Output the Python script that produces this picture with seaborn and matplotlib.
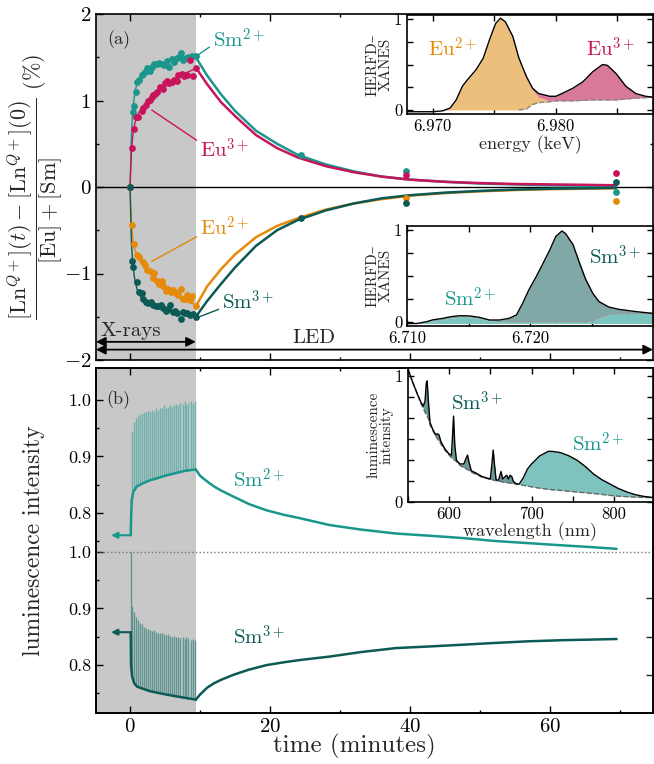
import numpy as np
import matplotlib
matplotlib.use("Agg")
import matplotlib.pyplot as plt
from matplotlib.ticker import MultipleLocator, FixedLocator
import seaborn as sns

# ---------------- panel (a): XANES fractions vs time ----------------
# measured points during X-ray exposure
t_sm2 = [0, 0.38, 0.57, 0.86, 1.05, 1.33, 1.67, 1.9, 2.14, 2.48, 2.86, 3.1, 3.43, 3.8, 4.19,
         4.5, 4.86, 5.24, 5.6, 5.95, 6.3, 6.67, 7.14, 7.24, 7.6, 8.0, 8.3, 8.8, 9.43]
v_sm2 = [0, 0.87, 0.94, 1.10, 1.21, 1.24, 1.30, 1.31, 1.33, 1.37, 1.34, 1.39, 1.42, 1.42, 1.43,
         1.42, 1.41, 1.46, 1.39, 1.48, 1.45, 1.49, 1.51, 1.55, 1.47, 1.49, 1.50, 1.51, 1.51]
t_eu3 = [0, 0.24, 0.57, 0.86, 1.19, 1.67, 1.9, 2.29, 2.62, 2.86, 3.1, 3.33, 3.57, 3.8, 4.29,
         4.67, 5.0, 5.24, 5.6, 5.95, 6.29, 6.67, 6.9, 7.38, 7.71, 8.19, 8.57, 8.95, 9.43]
v_eu3 = [0, 0.45, 0.67, 0.81, 0.81, 0.88, 0.91, 0.95, 0.99, 1.01, 1.04, 1.06, 1.08, 1.10, 1.16,
         1.13, 1.20, 1.22, 1.20, 1.21, 1.24, 1.22, 1.29, 1.31, 1.28, 1.29, 1.47, 1.28, 1.37]
t_eu2 = [0, 0.24, 0.57, 0.95, 1.33, 1.81, 2.14, 2.48, 2.86, 3.24, 3.43, 3.81, 4.19, 4.52, 4.76,
         5.14, 5.48, 5.81, 6.19, 6.57, 6.9, 7.24, 7.52, 7.86, 8.19, 8.57, 8.81, 9.43]
v_eu2 = [0, -0.44, -0.66, -0.79, -0.81, -0.87, -0.90, -0.96, -0.97, -1.05, -0.99, -1.09, -1.12,
         -1.09, -1.15, -1.20, -1.18, -1.21, -1.19, -1.22, -1.25, -1.18, -1.29, -1.29, -1.25,
         -1.31, -1.26, -1.37]
t_sm3 = [0, 0.24, 0.48, 0.95, 1.33, 1.67, 1.9, 2.29, 2.62, 2.95, 3.33, 3.71, 4.05, 4.38, 4.76,
         5.14, 5.48, 5.71, 6.1, 6.43, 6.76, 7.24, 7.52, 7.86, 8.19, 8.57, 8.95, 9.43]
v_sm3 = [0, -0.86, -0.92, -1.10, -1.21, -1.23, -1.29, -1.33, -1.34, -1.33, -1.36, -1.37, -1.38,
         -1.36, -1.40, -1.43, -1.41, -1.36, -1.45, -1.43, -1.46, -1.53, -1.44, -1.46, -1.46,
         -1.48, -1.47, -1.50]

# points measured after the X-rays (LED only)
t_post_sm2, v_post_sm2 = [24.4, 39.4, 69.4], [0.37, 0.185, -0.054]
t_post_eu3, v_post_eu3 = [39.4, 69.4], [0.14, 0.16]
t_post_eu2, v_post_eu2 = [39.4, 69.4], [-0.13, -0.16]
t_post_sm3, v_post_sm3 = [24.4, 39.4, 69.4], [-0.36, -0.19, 0.054]

# fitted curves: growth under X-rays, then relaxation
t_rise = [0, 0.2, 0.4, 0.7, 1.0, 1.5, 2, 3, 4, 5, 6, 7, 8, 9.4]
fit_rise_sm2 = [0, 0.60, 0.90, 1.10, 1.20, 1.28, 1.33, 1.38, 1.42, 1.44, 1.46, 1.48, 1.49, 1.50]
fit_rise_eu3 = [0, 0.40, 0.60, 0.74, 0.82, 0.89, 0.94, 1.03, 1.11, 1.18, 1.23, 1.28, 1.32, 1.37]
fit_rise_eu2 = [0, -0.40, -0.60, -0.73, -0.80, -0.87, -0.92, -1.01, -1.09, -1.15, -1.20, -1.25,
                -1.29, -1.37]
fit_rise_sm3 = [0, -0.65, -0.90, -1.08, -1.18, -1.27, -1.32, -1.37, -1.40, -1.42, -1.44, -1.46,
                -1.48, -1.50]
t_decay = [9.4, 11, 13, 15, 18, 21, 24, 28, 32, 36, 40, 45, 50, 55, 60, 65, 69.4]
fit_dec_sm2 = [1.50, 1.29, 1.07, 0.88, 0.65, 0.50, 0.37, 0.26, 0.18, 0.12, 0.085, 0.06, 0.04,
               0.03, 0.02, 0.015, 0.01]
fit_dec_eu3 = [1.38, 1.19, 0.98, 0.82, 0.60, 0.45, 0.34, 0.24, 0.17, 0.12, 0.085, 0.06, 0.045,
               0.035, 0.03, 0.025, 0.02]
fit_dec_eu2 = [-1.38, -1.15, -0.95, -0.78, -0.58, -0.45, -0.36, -0.26, -0.19, -0.14, -0.10,
               -0.07, -0.05, -0.035, -0.025, -0.02, -0.015]
fit_dec_sm3 = [-1.50, -1.32, -1.12, -0.93, -0.68, -0.50, -0.38, -0.27, -0.19, -0.13, -0.095,
               -0.065, -0.045, -0.03, -0.02, -0.015, -0.01]

# ---------------- panel (b): luminescence traces ----------------
t_lum_xray_sm2 = [0.1, 0.15, 0.24, 0.48, 0.95, 1.9, 2.86, 4, 5, 6, 7, 8, 9.4]
v_lum_xray_sm2 = [0.761, 0.79, 0.823, 0.838, 0.847, 0.853, 0.858, 0.862, 0.866, 0.869, 0.872,
                  0.875, 0.877]
t_lum_xray_sm3 = [0.1, 0.15, 0.3, 0.6, 1.0, 1.43, 2.86, 4, 5.2, 7, 8.5, 9.4]
v_lum_xray_sm3 = [0.858, 0.80, 0.78, 0.768, 0.762, 0.760, 0.754, 0.751, 0.748, 0.744, 0.741,
                  0.739]
t_lum_led = [9.4, 10, 11, 12, 13, 14.8, 17, 19.5, 22, 24.3, 28.5, 33, 38, 43, 47.6, 52, 57,
             62, 66, 69.5]
v_lum_led_sm2 = [0.877, 0.866, 0.856, 0.847, 0.840, 0.829, 0.816, 0.805, 0.797, 0.791, 0.779,
                 0.771, 0.764, 0.760, 0.756, 0.751, 0.747, 0.743, 0.740, 0.737]
v_lum_led_sm3 = [0.739, 0.748, 0.760, 0.768, 0.774, 0.783, 0.792, 0.800, 0.805, 0.809, 0.815,
                 0.823, 0.830, 0.833, 0.836, 0.839, 0.842, 0.844, 0.845, 0.846]
sm2_pre, sm3_pre = 0.761, 0.858

# periodic spikes while X-rays are on
t_spike = [0.25, 0.55, 0.85, 1.1, 1.4, 1.7, 2.0, 2.3, 2.6, 2.85, 3.15, 3.45, 3.75, 4.0, 4.3,
           4.6, 4.9, 5.2, 5.45, 5.75, 6.05, 6.35, 6.6, 6.9, 7.2, 7.5, 7.8, 8.05, 8.35, 8.65,
           8.95, 9.25]
spike_base_sm2 = [0.823, 0.840, 0.845, 0.848, 0.850, 0.852, 0.853, 0.855, 0.857, 0.858, 0.859,
                  0.860, 0.861, 0.862, 0.863, 0.864, 0.865, 0.866, 0.867, 0.868, 0.869, 0.870,
                  0.871, 0.872, 0.873, 0.874, 0.874, 0.875, 0.875, 0.876, 0.876, 0.877]
spike_peak_sm2 = [0.945, 0.96, 0.968, 0.972, 0.975, 0.975, 0.978, 0.978, 0.98, 0.978, 0.982,
                  0.98, 0.985, 0.982, 0.985, 0.985, 0.99, 0.985, 0.988, 0.99, 0.988, 0.99,
                  0.993, 0.99, 0.995, 0.992, 0.998, 0.99, 0.995, 0.998, 0.993, 0.997]
spike_base_sm3 = [0.785, 0.770, 0.763, 0.762, 0.760, 0.759, 0.758, 0.757, 0.755, 0.754, 0.753,
                  0.753, 0.752, 0.751, 0.750, 0.750, 0.749, 0.748, 0.748, 0.747, 0.746, 0.746,
                  0.745, 0.744, 0.744, 0.743, 0.742, 0.742, 0.741, 0.740, 0.740, 0.739]
spike_peak_sm3 = [0.905, 0.893, 0.885, 0.88, 0.875, 0.872, 0.868, 0.866, 0.864, 0.862, 0.86,
                  0.862, 0.858, 0.857, 0.856, 0.857, 0.854, 0.853, 0.855, 0.852, 0.85, 0.852,
                  0.849, 0.85, 0.848, 0.849, 0.846, 0.85, 0.847, 0.845, 0.846, 0.845]

# ---------------- insets ----------------
eu_energy = [6.9679, 6.9700, 6.9708, 6.9714, 6.9719, 6.9724, 6.9728, 6.9735, 6.9741, 6.9746,
             6.9751, 6.9755, 6.9759, 6.9765, 6.9770, 6.9776, 6.9781, 6.9786, 6.9795, 6.9800,
             6.9805, 6.9814, 6.9822, 6.9830, 6.9838, 6.9842, 6.9849, 6.9857, 6.9865, 6.9873,
             6.9879]
eu_total = [-0.02, -0.02, -0.01, 0.02, 0.11, 0.26, 0.33, 0.44, 0.57, 0.77, 0.95, 1.01, 0.97,
            0.81, 0.57, 0.37, 0.24, 0.18, 0.15, 0.15, 0.18, 0.24, 0.31, 0.42, 0.50, 0.49, 0.40,
            0.26, 0.18, 0.15, 0.14]
eu_eu2 = [-0.02, -0.02, -0.01, 0.02, 0.11, 0.26, 0.33, 0.44, 0.57, 0.77, 0.95, 1.01, 0.97,
          0.81, 0.57, 0.37, 0.22, 0.14, 0.10, 0.10, 0.10, 0.10, 0.105, 0.11, 0.11, 0.11, 0.11,
          0.12, 0.13, 0.135, 0.14]
eu_base = [-0.02, -0.02, -0.01, 0, 0, 0, 0, 0, 0, 0, 0, 0, 0, 0, 0, 0.01, 0.06, 0.08, 0.09,
           0.10, 0.10, 0.10, 0.105, 0.11, 0.11, 0.11, 0.11, 0.12, 0.13, 0.135, 0.14]

sm_energy = [6.7100, 6.7108, 6.7116, 6.7121, 6.7129, 6.7136, 6.7143, 6.7151, 6.7159, 6.7167,
             6.7175, 6.7183, 6.7189, 6.7194, 6.7199, 6.7205, 6.7210, 6.7216, 6.7221, 6.7226,
             6.7229, 6.7235, 6.7240, 6.7245, 6.7251, 6.7256, 6.7264, 6.7272, 6.7286, 6.7300]
sm_total = [-0.02, -0.02, 0.0, 0.02, 0.036, 0.055, 0.065, 0.062, 0.047, 0.018, 0.018, 0.036,
            0.073, 0.20, 0.345, 0.49, 0.62, 0.78, 0.93, 0.99, 0.96, 0.84, 0.65, 0.47, 0.31,
            0.22, 0.16, 0.135, 0.11, 0.09]
sm_sm2 = [-0.02, -0.02, 0.0, 0.01, 0.02, 0.04, 0.05, 0.05, 0.035, 0.01, 0.0, 0.0, 0.0, 0.0,
          0.0, 0.0, 0.0, 0.0, 0.0, 0.0, 0.0, 0.0, 0.0, 0.0, 0.01, 0.04, 0.08, 0.09, 0.09, 0.09]

wl = [550, 556, 562, 566, 569, 571, 572.5, 573.5, 575, 577, 580, 584, 586, 588, 590, 595, 600,
      603, 604.5, 605.5, 607, 609, 613, 618, 621, 622.5, 624, 627, 632, 640, 645, 650, 652,
      653.5, 655, 657, 660, 663, 665, 668, 670, 672, 674, 676, 678, 682, 685, 690, 695, 700,
      710, 716, 720, 725, 735, 745, 755, 765, 775, 785, 795, 805, 815, 825, 835, 847]
lum_total = [1.06, 0.95, 0.85, 0.79, 0.76, 0.80, 0.94, 0.96, 0.80, 0.63, 0.58, 0.53, 0.54,
             0.53, 0.48, 0.42, 0.38, 0.37, 0.55, 0.68, 0.45, 0.33, 0.30, 0.30, 0.35, 0.37, 0.32,
             0.245, 0.23, 0.20, 0.19, 0.18, 0.30, 0.41, 0.30, 0.175, 0.17, 0.24, 0.18, 0.20,
             0.21, 0.18, 0.21, 0.20, 0.16, 0.14, 0.14, 0.19, 0.26, 0.30, 0.365, 0.385, 0.40,
             0.40, 0.39, 0.365, 0.33, 0.28, 0.22, 0.175, 0.14, 0.105, 0.078, 0.057, 0.043,
             0.033]
lum_bg = [1.06, 0.95, 0.85, 0.78, 0.74, 0.71, 0.69, 0.68, 0.66, 0.61, 0.57, 0.52, 0.50, 0.48,
          0.46, 0.41, 0.37, 0.35, 0.34, 0.335, 0.33, 0.32, 0.29, 0.27, 0.26, 0.255, 0.25, 0.235,
          0.22, 0.195, 0.186, 0.178, 0.175, 0.172, 0.170, 0.167, 0.163, 0.160, 0.157, 0.154,
          0.152, 0.150, 0.148, 0.146, 0.144, 0.140, 0.137, 0.130, 0.124, 0.118, 0.107, 0.102,
          0.098, 0.095, 0.090, 0.083, 0.077, 0.071, 0.065, 0.058, 0.050, 0.044, 0.040, 0.037,
          0.034, 0.032]

# ---------------- style ----------------
SM2 = "#1a968c"
SM3 = "#0b5a55"
EU3 = "#c8145a"
EU2 = "#e68a0a"
SM2_SPIKE = "#6cb2ad"
SM3_SPIKE = "#5f9590"
GREY = "#c8c8c8"
OFF = 0.268          # vertical offset of the Sm2+ trace in panel (b)
T_XRAY = 9.4

sns.set_theme(style="ticks")
plt.rcParams["font.family"] = ["cmr10", "DejaVu Serif"]
plt.rcParams["mathtext.fontset"] = "cm"
plt.rcParams["axes.formatter.use_mathtext"] = True
plt.rcParams["axes.linewidth"] = 1.2
plt.rcParams["axes.edgecolor"] = "black"


def frame(ax, major=5, minor=2.5):
    ax.tick_params(which="both", direction="in", top=True, right=True, colors="black",
                   width=1)
    ax.tick_params(which="major", length=major)
    ax.tick_params(which="minor", length=minor)


def ion(s, q):
    return r"$\mathrm{%s}^{%d+}$" % (s, q)


fig = plt.figure(figsize=(6.54, 7.64), dpi=100)
ax_a = fig.add_axes([96 / 654, 1 - 360 / 764, 557 / 654, 346 / 764])
ax_b = fig.add_axes([96 / 654, 1 - 713 / 764, 557 / 654, 345 / 764])

# ----- panel (a) -----
ax = ax_a
ax.axvspan(-5, T_XRAY, color=GREY, lw=0, zorder=0)
ax.axhline(0, color="black", lw=1.0, zorder=1)
for tr, vr, vd, col in [(t_rise, fit_rise_sm2, fit_dec_sm2, SM2),
                        (t_rise, fit_rise_eu3, fit_dec_eu3, EU3),
                        (t_rise, fit_rise_eu2, fit_dec_eu2, EU2),
                        (t_rise, fit_rise_sm3, fit_dec_sm3, SM3)]:
    sns.lineplot(x=tr, y=vr, ax=ax, color=col, lw=1.0, zorder=3)
    sns.lineplot(x=t_decay, y=vd, ax=ax, color=col, lw=1.8, zorder=3)
for tt, vv, col in [(t_sm2, v_sm2, SM2), (t_eu3, v_eu3, EU3), (t_eu2, v_eu2, EU2),
                    (t_sm3, v_sm3, SM3), (t_post_sm2, v_post_sm2, SM2),
                    (t_post_eu3, v_post_eu3, EU3), (t_post_eu2, v_post_eu2, EU2),
                    (t_post_sm3, v_post_sm3, SM3)]:
    sns.scatterplot(x=tt, y=vv, ax=ax, color=col, s=24, linewidth=0, zorder=4)

lead = dict(arrowstyle="-", lw=1.0, shrinkA=0, shrinkB=0)
ax.annotate(ion("Sm", 2), xy=(9.6, 1.52), xytext=(11.8, 1.70), color=SM2, fontsize=15,
            va="center", arrowprops=dict(lead, color=SM2, relpos=(0, 0.3)))
ax.annotate(ion("Eu", 3), xy=(3.1, 0.89), xytext=(10.0, 0.43), color=EU3, fontsize=15,
            va="center", arrowprops=dict(lead, color=EU3, relpos=(0, 0.8)))
ax.annotate(ion("Eu", 2), xy=(3.1, -0.86), xytext=(10.0, -0.47), color=EU2, fontsize=15,
            va="center", arrowprops=dict(lead, color=EU2, relpos=(0, 0.2)))
ax.annotate(ion("Sm", 3), xy=(9.6, -1.51), xytext=(13.1, -1.33), color=SM3, fontsize=15,
            va="center", arrowprops=dict(lead, color=SM3, relpos=(0, 0.25)))

arrow = dict(arrowstyle="<|-|>", color="black", lw=1.3, mutation_scale=14,
             shrinkA=0, shrinkB=0)
ax.annotate("", xy=(-4.86, -1.79), xytext=(T_XRAY, -1.79), arrowprops=arrow,
            annotation_clip=False)
ax.annotate("", xy=(-4.86, -1.88), xytext=(74.7, -1.88), arrowprops=arrow,
            annotation_clip=False)
ax.text(-4.2, -1.66, "X-rays", fontsize=15, va="center")
ax.text(26.2, -1.745, "LED", fontsize=15, va="center", ha="center")
ax.text(-3.3, 1.70, "(a)", fontsize=13, va="center")

ax.set_xlim(-4.86, 74.7)
ax.set_ylim(-2, 2)
ax.set_xticks([0, 20, 40, 60])
ax.xaxis.set_minor_locator(FixedLocator([10, 30, 50, 70]))
ax.set_xticklabels([])
ax.set_yticks([-2, -1, 0, 1, 2])
ax.set_yticklabels(["$-2$", "$-1$", "$0$", "$1$", "$2$"], fontsize=15)
ax.yaxis.set_minor_locator(MultipleLocator(0.5))
ax.set_xlabel("")
ax.set_ylabel(r"$\dfrac{[\mathrm{Ln}^{Q+}](t)-[\mathrm{Ln}^{Q+}](0)}{[\mathrm{Eu}]+[\mathrm{Sm}]}$ (%)",
              fontsize=16)
ax.yaxis.set_label_coords(-0.056, 0.5)
frame(ax)

# ----- panel (b) -----
ax = ax_b
ax.axvspan(-5, T_XRAY, color=GREY, lw=0, zorder=0)
ax.axhline(1.0, color="#777777", ls=":", lw=1.0, zorder=1)
ax.vlines(t_spike, np.array(spike_base_sm2) + OFF, np.array(spike_peak_sm2) + OFF,
          color=SM2_SPIKE, lw=1.0, zorder=2)
ax.vlines([0.1] + t_spike, [sm3_pre] + spike_base_sm3, [1.0] + spike_peak_sm3,
          color=SM3_SPIKE, lw=1.0, zorder=2)
sns.lineplot(x=t_lum_xray_sm2, y=np.array(v_lum_xray_sm2) + OFF, ax=ax, color=SM2, lw=1.8,
             zorder=3)
sns.lineplot(x=t_lum_led, y=np.array(v_lum_led_sm2) + OFF, ax=ax, color=SM2, lw=1.8, zorder=3)
sns.lineplot(x=t_lum_xray_sm3, y=v_lum_xray_sm3, ax=ax, color=SM3, lw=1.8, zorder=3)
sns.lineplot(x=t_lum_led, y=v_lum_led_sm3, ax=ax, color=SM3, lw=1.8, zorder=3)
ax.annotate("", xy=(-2.7, sm2_pre + OFF), xytext=(0.12, sm2_pre + OFF), zorder=3,
            arrowprops=dict(arrowstyle="-|>", color=SM2, lw=1.5, mutation_scale=9,
                            shrinkA=0, shrinkB=0))
ax.annotate("", xy=(-2.7, sm3_pre), xytext=(0.12, sm3_pre), zorder=3,
            arrowprops=dict(arrowstyle="-|>", color=SM3, lw=1.5, mutation_scale=9,
                            shrinkA=0, shrinkB=0))
ax.text(14.7, 0.859 + OFF, ion("Sm", 2), color=SM2, fontsize=15, va="center")
ax.text(14.7, 0.85, ion("Sm", 3), color=SM3, fontsize=15, va="center")
ax.text(-3.4, 1.0 + OFF, "(b)", fontsize=13, va="center")

ax.set_xlim(-4.86, 74.7)
ax.set_ylim(0.7155, 1.324)
ax.set_xticks([0, 20, 40, 60])
ax.set_xticklabels(["$0$", "$20$", "$40$", "$60$"], fontsize=15)
ax.xaxis.set_minor_locator(FixedLocator([10, 30, 50, 70]))
lum_ticks = [0.8, 0.9, 1.0]
ax.set_yticks(lum_ticks + [v + OFF for v in lum_ticks])
ax.set_yticklabels(["0.8", "0.9", "1.0"] * 2, fontsize=13)
for i, lab in enumerate(ax.get_yticklabels()):
    lab.set_color(SM3 if i < 3 else SM2)
ax.yaxis.set_minor_locator(FixedLocator([0.75, 0.85, 0.95] + [v + OFF for v in [0.75, 0.85, 0.95]]))
ax.set_xlabel("time (minutes)", fontsize=18)
ax.xaxis.set_label_coords(0.463, -0.062)
ax.set_ylabel("luminescence intensity", fontsize=17)
ax.yaxis.set_label_coords(-0.092, 0.5)
frame(ax)
ax.tick_params(which="both", right=False)
ax_r = ax.twinx()
ax_r.set_ylim(ax.get_ylim())
ax_r.set_yticks([0.783, 0.85, 0.918])
ax_r.tick_params(direction="in", length=5, width=1, labelright=False)
ax_r.grid(False)

# ----- inset: Eu L3 HERFD-XANES -----
ins = fig.add_axes([407 / 654, 1 - 114 / 764, 246 / 654, 99 / 764])
eu_e = np.array(eu_energy)
ins.fill_between(eu_energy, eu_base, eu_eu2, color="#ecc07c", lw=0)
ins.fill_between(eu_energy, eu_eu2, eu_total, where=eu_e > 6.9778,
                 color="#d8799c", lw=0, interpolate=True)
ins.plot(eu_e[eu_e >= 6.977], np.array(eu_base)[eu_e >= 6.977], color="#888888", ls="--",
         lw=1.0)
sns.lineplot(x=eu_energy, y=eu_total, ax=ins, color="black", lw=1.0)
ins.text(6.96957, 0.67, ion("Eu", 2), color=EU2, fontsize=15, va="center")
ins.text(6.98246, 0.67, ion("Eu", 3), color=EU3, fontsize=15, va="center")
ins.set_xlim(6.9679, 6.9879)
ins.set_ylim(-0.045, 1.045)
ins.set_xticks([6.970, 6.980])
ins.set_xticklabels(["6.970", "6.980"], fontsize=12)
ins.xaxis.set_minor_locator(FixedLocator([6.975, 6.985]))
ins.set_yticks([0, 0.25, 0.5, 0.75, 1])
ins.set_yticklabels(["0", "", "", "", "1"], fontsize=12)
ins.set_xlabel("energy (keV)", fontsize=13, labelpad=1)
ins.set_ylabel("HERFD–\nXANES", fontsize=11, labelpad=1, linespacing=0.9)
frame(ins, 4, 4)

# ----- inset: Sm L3 HERFD-XANES -----
ins = fig.add_axes([407 / 654, 1 - 325.7 / 764, 246 / 654, 100 / 764])
ins.fill_between(sm_energy, -0.02, sm_sm2, color="#7cc4bf", lw=0)
ins.fill_between(sm_energy, sm_sm2, sm_total, color="#80a8a6", lw=0)
sm_e = np.array(sm_energy)
ins.plot(sm_e[sm_e >= 6.718], np.array(sm_sm2)[sm_e >= 6.718], color="#999999", ls="--",
         lw=1.0)
sns.lineplot(x=sm_energy, y=sm_total, ax=ins, color="black", lw=1.0)
ins.text(6.7248, 0.705, ion("Sm", 3), color=SM3, fontsize=15, va="center")
ins.text(6.7130, 0.25, ion("Sm", 2), color=SM2, fontsize=15, va="center")
ins.set_xlim(6.710, 6.730)
ins.set_ylim(-0.044, 1.047)
ins.set_xticks([6.710, 6.720])
ins.set_xticklabels(["6.710", "6.720"], fontsize=12)
ins.xaxis.set_minor_locator(FixedLocator([6.715, 6.725]))
ins.set_yticks([0, 0.25, 0.5, 0.75, 1])
ins.set_yticklabels(["0", "", "", "", "1"], fontsize=12)
ins.set_ylabel("HERFD–\nXANES", fontsize=11, labelpad=1, linespacing=0.9)
frame(ins, 4, 4)

# ----- inset: luminescence spectrum -----
ins = fig.add_axes([407.7 / 654, 1 - 501.7 / 764, 245.3 / 654, 133.4 / 764])
wl_a = np.array(wl)
ins.fill_between(wl, lum_bg, lum_total, where=wl_a <= 685, color="#679b97", lw=0,
                 interpolate=True)
ins.fill_between(wl, lum_bg, lum_total, where=wl_a >= 682, color="#7fc3be", lw=0,
                 interpolate=True)
ins.plot(wl, lum_bg, color="#666666", ls="--", lw=1.0)
sns.lineplot(x=wl, y=lum_total, ax=ins, color="black", lw=1.0)
ins.text(603, 0.79, ion("Sm", 3), color=SM3, fontsize=15, va="center")
ins.text(749, 0.46, ion("Sm", 2), color=SM2, fontsize=15, va="center")
ins.set_xlim(550, 847)
ins.set_ylim(0, 1.06)
ins.set_xticks([600, 700, 800])
ins.set_xticklabels(["600", "700", "800"], fontsize=12)
ins.xaxis.set_minor_locator(MultipleLocator(50))
ins.set_yticks([0, 0.167, 0.333, 0.5, 0.667, 0.833, 1.0])
ins.set_yticklabels(["0", "", "", "", "", "", "1"], fontsize=12)
ins.set_xlabel("wavelength (nm)", fontsize=13, labelpad=0)
ins.set_ylabel("luminescence\nintensity", fontsize=11, labelpad=1, linespacing=0.9)
frame(ins, 4, 4)

fig.savefig("out.png", dpi=100)
